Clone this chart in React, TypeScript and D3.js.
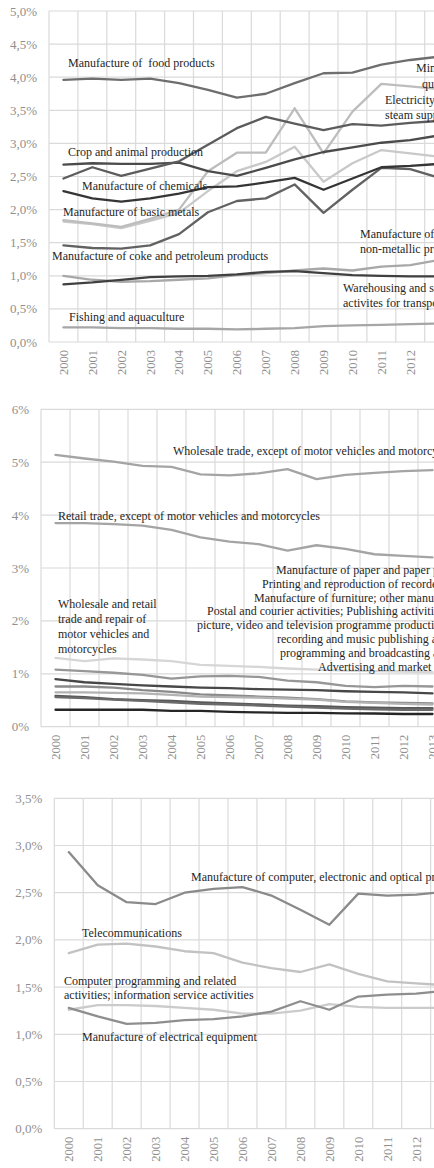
import React from 'react';
import * as d3 from 'd3';

// Years on the category axis
const YEARS = ['2000', '2001', '2002', '2003', '2004', '2005', '2006', '2007', '2008', '2009', '2010', '2011', '2012', '2013'];

// Panel 1 – primary sector and heavy industry (share, %)
const foodProducts = [3.96, 3.98, 3.96, 3.98, 3.91, 3.81, 3.69, 3.75, 3.91, 4.06, 4.07, 4.19, 4.26, 4.31];
const miningQuarrying = [2.47, 2.64, 2.51, 2.62, 2.73, 2.98, 3.23, 3.40, 3.30, 3.20, 3.29, 3.27, 3.31, 3.34];
const cropAnimal = [2.68, 2.70, 2.69, 2.69, 2.71, 2.58, 2.51, 2.63, 2.76, 2.87, 2.94, 3.01, 3.05, 3.12];
const chemicals = [2.28, 2.17, 2.12, 2.17, 2.24, 2.34, 2.35, 2.41, 2.48, 2.30, 2.47, 2.64, 2.66, 2.69];
const cokePetroleum = [1.46, 1.42, 1.41, 1.46, 1.63, 1.96, 2.13, 2.17, 2.38, 1.95, 2.30, 2.63, 2.61, 2.48];
const electricitySteam = [1.84, 1.79, 1.74, 1.86, 2.00, 2.58, 2.86, 2.86, 3.53, 2.85, 3.48, 3.90, 3.86, 3.82];
const basicMetals = [1.82, 1.78, 1.72, 1.83, 1.95, 2.28, 2.58, 2.72, 2.95, 2.42, 2.70, 2.90, 2.85, 2.80];
const nonMetallic = [1.00, 0.94, 0.91, 0.92, 0.94, 0.96, 1.01, 1.04, 1.08, 1.11, 1.08, 1.14, 1.16, 1.24];
const warehousing = [0.87, 0.90, 0.94, 0.98, 0.99, 1.00, 1.02, 1.06, 1.07, 1.04, 1.01, 1.00, 0.99, 0.99];
const fishing = [0.22, 0.22, 0.21, 0.21, 0.20, 0.20, 0.19, 0.20, 0.21, 0.24, 0.25, 0.26, 0.27, 0.28];

// Panel 2 – trade and media
const wholesaleTrade = [5.14, 5.07, 5.01, 4.93, 4.91, 4.77, 4.75, 4.79, 4.87, 4.68, 4.76, 4.80, 4.83, 4.85];
const retailTrade = [3.85, 3.85, 3.83, 3.80, 3.72, 3.58, 3.50, 3.45, 3.33, 3.43, 3.36, 3.26, 3.23, 3.20];
const motorTrade = [1.30, 1.24, 1.29, 1.27, 1.24, 1.17, 1.15, 1.13, 1.10, 1.08, 1.06, 1.05, 1.04, 1.03];
const paperProducts = [1.08, 1.05, 1.02, 0.98, 0.91, 0.95, 0.96, 0.94, 0.87, 0.84, 0.77, 0.75, 0.77, 0.76];
const printing = [0.90, 0.84, 0.81, 0.78, 0.76, 0.74, 0.73, 0.71, 0.70, 0.69, 0.67, 0.66, 0.65, 0.63];
const furniture = [0.76, 0.76, 0.74, 0.69, 0.66, 0.61, 0.59, 0.57, 0.55, 0.52, 0.48, 0.46, 0.45, 0.44];
const postal = [0.65, 0.65, 0.64, 0.63, 0.60, 0.57, 0.56, 0.55, 0.53, 0.51, 0.47, 0.45, 0.43, 0.42];
const publishing = [0.58, 0.56, 0.52, 0.50, 0.49, 0.46, 0.44, 0.42, 0.40, 0.39, 0.37, 0.36, 0.35, 0.35];
const motionPicture = [0.56, 0.54, 0.51, 0.49, 0.46, 0.43, 0.42, 0.40, 0.38, 0.36, 0.34, 0.33, 0.32, 0.32];
const advertising = [0.32, 0.32, 0.32, 0.32, 0.30, 0.30, 0.28, 0.27, 0.26, 0.26, 0.25, 0.25, 0.24, 0.24];

// Panel 3 – electronics and ICT
const computerElectronic = [2.93, 2.58, 2.40, 2.38, 2.50, 2.54, 2.56, 2.47, 2.32, 2.16, 2.49, 2.47, 2.48, 2.51];
const telecommunications = [1.86, 1.95, 1.96, 1.93, 1.88, 1.86, 1.76, 1.70, 1.66, 1.74, 1.64, 1.56, 1.54, 1.52];
const computerProgramming = [1.26, 1.31, 1.31, 1.30, 1.28, 1.26, 1.22, 1.22, 1.25, 1.32, 1.29, 1.28, 1.28, 1.28];
const electricalEquipment = [1.28, 1.19, 1.11, 1.12, 1.15, 1.16, 1.19, 1.24, 1.35, 1.26, 1.40, 1.42, 1.43, 1.46];

type Series = { name: string; values: number[]; color: string };
type Label = { text: string; x: number; y: number };
type PanelCfg = {
  left: number; top: number; bottom: number; step: number;
  max: number; tickStep: number; decimals: number;
  series: Series[]; labels: Label[];
};

const FONT = '"Liberation Serif", "DejaVu Serif", serif';
const GRID = '#dadada';
const AXIS_TEXT = '#8f8f8f';
const LABEL_TEXT = '#262626';

const panels: PanelCfg[] = [
  {
    left: 49, top: 11, bottom: 342, step: 28.9, max: 5, tickStep: 0.5, decimals: 1,
    series: [
      { name: 'Fishing and aquaculture', values: fishing, color: '#a6a6a6' },
      { name: 'Manufacture of other non-metallic products', values: nonMetallic, color: '#a8a8a8' },
      { name: 'Warehousing and support activites for transport', values: warehousing, color: '#404040' },
      { name: 'Manufacture of basic metals', values: basicMetals, color: '#c9c9c9' },
      { name: 'Electricity, gas, steam supply', values: electricitySteam, color: '#bdbdbd' },
      { name: 'Manufacture of coke and petroleum products', values: cokePetroleum, color: '#626262' },
      { name: 'Manufacture of chemicals', values: chemicals, color: '#353535' },
      { name: 'Crop and animal production', values: cropAnimal, color: '#4b4b4b' },
      { name: 'Mining and quarrying', values: miningQuarrying, color: '#5c5c5c' },
      { name: 'Manufacture of food products', values: foodProducts, color: '#6e6e6e' },
    ],
    labels: [
      { text: 'Manufacture of  food products', x: 68, y: 63 },
      { text: 'Mining and', x: 416, y: 68 },
      { text: 'quarrying', x: 422, y: 84 },
      { text: 'Electricity, gas,', x: 385, y: 100 },
      { text: 'steam supply', x: 385, y: 115 },
      { text: 'Crop and animal production', x: 68, y: 152 },
      { text: 'Manufacture of chemicals', x: 82, y: 186 },
      { text: 'Manufacture of basic metals', x: 63, y: 212 },
      { text: 'Manufacture of coke and petroleum products', x: 52, y: 256 },
      { text: 'Manufacture of other', x: 360, y: 234 },
      { text: 'non-metallic products', x: 360, y: 249 },
      { text: 'Warehousing and support', x: 343, y: 288 },
      { text: 'activites for transport', x: 343, y: 303 },
      { text: 'Fishing and aquaculture', x: 69, y: 317 },
    ],
  },
  {
    left: 41, top: 409.3, bottom: 726.7, step: 29.0, max: 6, tickStep: 1, decimals: 0,
    series: [
      { name: 'Wholesale and retail trade and repair of motor vehicles and motorcycles', values: motorTrade, color: '#d6d6d6' },
      { name: 'Manufacture of paper and paper products', values: paperProducts, color: '#979797' },
      { name: 'Printing and reproduction of recorded media', values: printing, color: '#474747' },
      { name: 'Manufacture of furniture; other manufacturing', values: furniture, color: '#8a8a8a' },
      { name: 'Postal and courier activities', values: postal, color: '#b3b3b3' },
      { name: 'Publishing activities', values: publishing, color: '#575757' },
      { name: 'Motion picture, video and television programme production', values: motionPicture, color: '#6a6a6a' },
      { name: 'Advertising and market research', values: advertising, color: '#262626' },
      { name: 'Retail trade, except of motor vehicles and motorcycles', values: retailTrade, color: '#a4a4a4' },
      { name: 'Wholesale trade, except of motor vehicles and motorcycles', values: wholesaleTrade, color: '#a4a4a4' },
    ],
    labels: [
      { text: 'Wholesale trade, except of motor vehicles and motorcycles', x: 173, y: 451 },
      { text: 'Retail trade, except of motor vehicles and motorcycles', x: 58, y: 516 },
      { text: 'Wholesale and retail', x: 58, y: 604 },
      { text: 'trade and repair of', x: 58, y: 619 },
      { text: 'motor vehicles and', x: 58, y: 634 },
      { text: 'motorcycles', x: 58, y: 649 },
      { text: 'Manufacture of paper and paper products', x: 276, y: 570 },
      { text: 'Printing and reproduction of recorded media', x: 262, y: 584 },
      { text: 'Manufacture of furniture; other manufacturing', x: 254, y: 597.5 },
      { text: 'Postal and courier activities; Publishing activities; Motion', x: 207, y: 611 },
      { text: 'picture, video and television programme production, sound', x: 197, y: 625 },
      { text: 'recording and music publishing activities;', x: 277, y: 639 },
      { text: 'programming and broadcasting activities;', x: 280, y: 653 },
      { text: 'Advertising and market research', x: 318, y: 667 },
    ],
  },
  {
    left: 54.3, top: 798.3, bottom: 1128.7, step: 28.95, max: 3.5, tickStep: 0.5, decimals: 1,
    series: [
      { name: 'Computer programming and related activities; information service activities', values: computerProgramming, color: '#cbcbcb' },
      { name: 'Telecommunications', values: telecommunications, color: '#c2c2c2' },
      { name: 'Manufacture of electrical equipment', values: electricalEquipment, color: '#8e8e8e' },
      { name: 'Manufacture of computer, electronic and optical products', values: computerElectronic, color: '#8a8a8a' },
    ],
    labels: [
      { text: 'Manufacture of computer, electronic and optical products', x: 191, y: 877 },
      { text: 'Telecommunications', x: 82, y: 933 },
      { text: 'Computer programming and related', x: 64, y: 981 },
      { text: 'activities; information service activities', x: 64, y: 995 },
      { text: 'Manufacture of electrical equipment', x: 82, y: 1037 },
    ],
  },
];

function fmtTick(v: number, decimals: number) {
  return d3.format(`.${decimals}f`)(v).replace('.', ',') + '%';
}

function Panel({ cfg }: { cfg: PanelCfg }) {
  const x = d3.scaleBand<string>()
    .domain(YEARS)
    .range([cfg.left, cfg.left + YEARS.length * cfg.step])
    .padding(0);
  const y = d3.scaleLinear().domain([0, cfg.max]).range([cfg.bottom, cfg.top]);
  const bw = x.bandwidth();
  const ticks = d3.range(0, cfg.max + 1e-9, cfg.tickStep);
  const right = x.range()[1];
  const line = d3.line<number>()
    .x((_, i) => (x(YEARS[i]) as number) + bw / 2)
    .y((d) => y(d))
    .curve(d3.curveLinear);

  return (
    <g>
      {/* horizontal grid + value labels */}
      {ticks.map((t) => (
        <g key={`h${t}`}>
          <line x1={cfg.left} x2={right} y1={y(t)} y2={y(t)} stroke={GRID} strokeWidth={1.2} />
          <text x={cfg.left - 12} y={y(t)} dy="0.35em" textAnchor="end"
            fontFamily={FONT} fontSize={13} fill={AXIS_TEXT}>
            {fmtTick(t, cfg.decimals)}
          </text>
        </g>
      ))}
      {/* vertical grid at category boundaries */}
      {YEARS.map((yr) => (
        <line key={`v${yr}`} x1={x(yr)} x2={x(yr)} y1={cfg.top} y2={cfg.bottom}
          stroke={GRID} strokeWidth={1.2} />
      ))}
      <line x1={right} x2={right} y1={cfg.top} y2={cfg.bottom} stroke={GRID} strokeWidth={1.2} />
      {/* year labels */}
      {YEARS.map((yr) => (
        <text key={`t${yr}`} transform={`translate(${(x(yr) as number) + bw / 2},${cfg.bottom + 8}) rotate(-90)`}
          dy="0.35em" textAnchor="end" fontFamily={FONT} fontSize={12.5} fill={AXIS_TEXT}>
          {yr}
        </text>
      ))}
      {/* series */}
      {cfg.series.map((s) => (
        <path key={s.name} d={line(s.values) as string} fill="none" stroke={s.color}
          strokeWidth={2.3} strokeLinejoin="round" strokeLinecap="round" />
      ))}
      {/* direct labels */}
      {cfg.labels.map((l, i) => (
        <text key={`l${i}`} x={l.x} y={l.y} dy="0.35em" fontFamily={FONT} fontSize={12}
          fill={LABEL_TEXT} style={{ whiteSpace: 'pre' }}>
          {l.text}
        </text>
      ))}
    </g>
  );
}

export default function App() {
  return (
    <div style={{ position: 'absolute', left: 0, top: 0, width: 434, height: 1168, overflow: 'hidden', background: '#fff' }}>
      <svg width={640} height={1168} style={{ display: 'block' }}>
        <rect x={0} y={0} width={640} height={1168} fill="#fff" />
        {panels.map((p, i) => <Panel key={i} cfg={p} />)}
      </svg>
    </div>
  );
}
